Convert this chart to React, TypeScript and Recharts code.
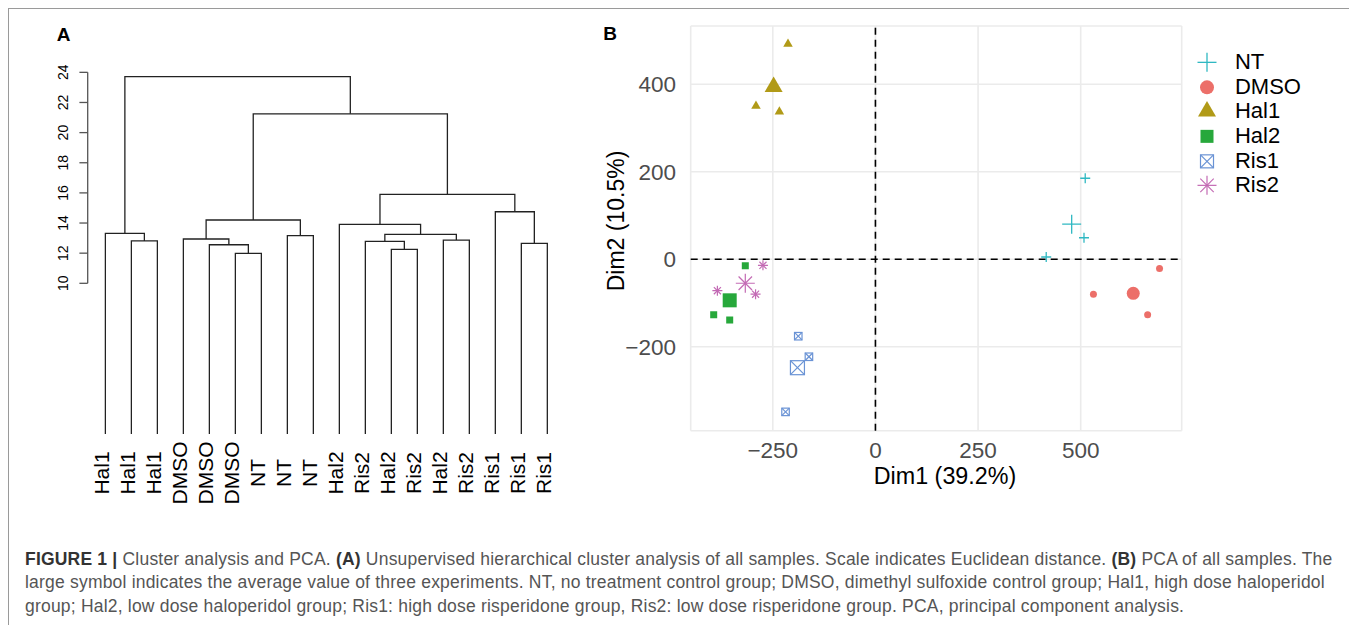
import React from "react";
import {
  ComposedChart,
  Line,
  ScatterChart,
  Scatter,
  XAxis,
  YAxis,
  CartesianGrid,
  ReferenceLine,
  Legend,
} from "recharts";

const FONT = "'Liberation Sans', Arial, Helvetica, sans-serif";

// ---- panel A: hierarchical clustering ----
const LEAF_LABELS = [
  "Hal1", "Hal1", "Hal1", "DMSO", "DMSO", "DMSO", "NT", "NT", "NT",
  "Hal2", "Ris2", "Hal2", "Ris2", "Hal2", "Ris2", "Ris1", "Ris1", "Ris1",
];
// merge steps, R hclust style: negative = leaf position, positive = earlier step
const MERGE_LEFT = [-6, -12, -5, -17, -11, -2, -14, -4, -8, 5, -1, -10, 8, -16, 12, 13, 11];
const MERGE_RIGHT = [-7, -13, 1, -18, 2, -3, -15, 3, -9, 7, 6, 10, 9, 4, 14, 15, 16];
const MERGE_HEIGHT = [
  11.99, 12.25, 12.56, 12.65, 12.78, 12.81, 12.87, 12.94, 13.16,
  13.25, 13.31, 13.91, 14.2, 14.75, 15.9, 21.25, 23.71,
];
const HEIGHT_TICKS = [10, 12, 14, 16, 18, 20, 22, 24];

// ---- panel B: PCA ----
const GROUP_NAMES = ["NT", "DMSO", "Hal1", "Hal2", "Ris1", "Ris2"];
const NT_POINTS = [[511, 185], [508, 49], [416, 5]];
const DMSO_POINTS = [[692, -21], [531, -80], [663, -127]];
const HAL1_POINTS = [[-213, 492], [-291, 350], [-234, 337]];
const HAL2_POINTS = [[-317, -15], [-394, -127], [-355, -139]];
const RIS1_POINTS = [[-188, -176], [-162, -223], [-219, -349]];
const RIS2_POINTS = [[-274, -14], [-385, -72], [-292, -80]];
const GROUP_MEANS = [[478, 80], [628, -78], [-248, 394], [-355, -94], [-190, -248], [-317, -55]];
const DIM1_TICKS = [-250, 0, 250, 500];
const DIM2_TICKS = [-200, 0, 200, 400];

const GROUP_POINTS = [NT_POINTS, DMSO_POINTS, HAL1_POINTS, HAL2_POINTS, RIS1_POINTS, RIS2_POINTS];

const GROUP_STYLE = [
  { shape: "plus", color: "#2FB8C2", small: 10, big: 19, legend: 19 },
  { shape: "circle", color: "#EC6F69", small: 7, big: 13, legend: 14 },
  { shape: "triangle", color: "#B19A17", small: 9.5, big: 18, legend: 18 },
  { shape: "square", color: "#27A83B", small: 7, big: 14, legend: 13 },
  { shape: "boxx", color: "#6A93D5", small: 7.5, big: 14, legend: 13 },
  { shape: "asterisk", color: "#C36AB4", small: 10, big: 19, legend: 19 },
];

// dendrogram links: each merge drawn as a U through the chart scales
const nodeX: number[] = [];
const nodeH: number[] = [];
const childPos = (ref: number) =>
  ref < 0 ? { x: -ref, h: 0 } : { x: nodeX[ref - 1], h: nodeH[ref - 1] };
const LINKS = MERGE_HEIGHT.map((h, i) => {
  const a = childPos(MERGE_LEFT[i]);
  const b = childPos(MERGE_RIGHT[i]);
  nodeX[i] = (a.x + b.x) / 2;
  nodeH[i] = h;
  return [
    { x: a.x, h: a.h },
    { x: a.x, h },
    { x: b.x, h },
    { x: b.x, h: b.h },
  ];
});
const LEAF_TICKS = LEAF_LABELS.map((_, i) => i + 1);

const fmt = (v: number) => (v < 0 ? "\u2212" + Math.abs(v) : String(v));

function drawSymbol(shape: string, cx: number, cy: number, s: number, color: string) {
  const h = s / 2;
  switch (shape) {
    case "plus":
      return (
        <g stroke={color} strokeWidth={1.3}>
          <line x1={cx - h} x2={cx + h} y1={cy} y2={cy} />
          <line x1={cx} x2={cx} y1={cy - h} y2={cy + h} />
        </g>
      );
    case "circle":
      return <circle cx={cx} cy={cy} r={h} fill={color} />;
    case "triangle": {
      const th = s * 0.866;
      return (
        <polygon
          points={`${cx},${cy - (th * 2) / 3} ${cx + h},${cy + th / 3} ${cx - h},${cy + th / 3}`}
          fill={color}
        />
      );
    }
    case "square":
      return <rect x={cx - h} y={cy - h} width={s} height={s} fill={color} />;
    case "boxx":
      return (
        <g stroke={color} strokeWidth={1.2} fill="none">
          <rect x={cx - h} y={cy - h} width={s} height={s} />
          <line x1={cx - h} y1={cy - h} x2={cx + h} y2={cy + h} />
          <line x1={cx - h} y1={cy + h} x2={cx + h} y2={cy - h} />
        </g>
      );
    default: {
      const d = h * 0.7071;
      return (
        <g stroke={color} strokeWidth={1.2}>
          <line x1={cx - h} x2={cx + h} y1={cy} y2={cy} />
          <line x1={cx} x2={cx} y1={cy - h} y2={cy + h} />
          <line x1={cx - d} x2={cx + d} y1={cy - d} y2={cy + d} />
          <line x1={cx - d} x2={cx + d} y1={cy + d} y2={cy - d} />
        </g>
      );
    }
  }
}

const LeafTick = (props: any) => {
  const { x, y, payload } = props;
  return (
    <text
      transform={`translate(${x + 3.5}, ${y + 39}) rotate(-90)`}
      textAnchor="middle"
      fontSize={21}
      fontFamily={FONT}
      fill="#000"
    >
      {LEAF_LABELS[payload.value - 1]}
    </text>
  );
};

const HeightTick = (props: any) => {
  const { x, y, payload } = props;
  return (
    <g>
      <line x1={x - 8.3} x2={x} y1={y} y2={y} stroke="#555" strokeWidth={1.3} />
      <text
        transform={`translate(${x - 19.4}, ${y}) rotate(-90)`}
        textAnchor="middle"
        fontSize={14}
        fontFamily={FONT}
        fill="#000"
      >
        {payload.value}
      </text>
    </g>
  );
};

const Dim1Tick = (props: any) => {
  const { x, y, payload } = props;
  return (
    <text x={x} y={y + 27.5} textAnchor="middle" fontSize={22.5} fontFamily={FONT} fill="#4D4D4D">
      {fmt(payload.value)}
    </text>
  );
};

const Dim2Tick = (props: any) => {
  const { x, y, payload } = props;
  return (
    <text x={x - 14.7} y={y} dy="0.36em" textAnchor="end" fontSize={22.5} fontFamily={FONT} fill="#4D4D4D">
      {fmt(payload.value)}
    </text>
  );
};

const renderLegend = () => (
  <div style={{ fontFamily: FONT, fontSize: 22, color: "#000" }}>
    {GROUP_NAMES.map((name, i) => (
      <div key={name} style={{ display: "flex", alignItems: "center", height: 24.7 }}>
        <svg width={24} height={24.7} style={{ flex: "none" }}>
          {drawSymbol(GROUP_STYLE[i].shape, 12, 12.35, GROUP_STYLE[i].legend, GROUP_STYLE[i].color)}
        </svg>
        <span style={{ marginLeft: 16.3, lineHeight: "24.7px", whiteSpace: "nowrap" }}>{name}</span>
      </div>
    ))}
  </div>
);

export default function App() {
  return (
    <div
      style={{
        position: "relative",
        width: 1340,
        height: 650,
        border: "1px solid #9a9a9a",
        background: "#fff",
        fontFamily: FONT,
      }}
    >
      <div style={{ position: "absolute", left: 47.7, top: 15.6, fontSize: 19, lineHeight: "19px", fontWeight: "bold" }}>
        A
      </div>
      <div style={{ position: "absolute", left: 594.3, top: 14.9, fontSize: 19, lineHeight: "19px", fontWeight: "bold" }}>
        B
      </div>

      <div style={{ position: "absolute", left: 0, top: 0 }}>
        <ComposedChart width={580} height={520} margin={{ top: 55.8, right: 24, left: 0, bottom: 0 }}>
          <XAxis
            type="number"
            dataKey="x"
            domain={[0.32, 18.68]}
            ticks={LEAF_TICKS}
            interval={0}
            axisLine={false}
            tickLine={false}
            tickSize={0}
            tickMargin={0}
            height={95}
            tick={LeafTick}
            allowDataOverflow
          />
          <YAxis
            type="number"
            domain={[0, 24.5]}
            ticks={HEIGHT_TICKS}
            interval={0}
            width={78.7}
            axisLine={false}
            tickLine={false}
            tickSize={0}
            tickMargin={0}
            tick={HeightTick}
            allowDataOverflow
          />
          <ReferenceLine
            segment={[{ x: 0.32, y: 10 }, { x: 0.32, y: 24 }]}
            stroke="#555"
            strokeWidth={1.3}
            ifOverflow="visible"
          />
          {LINKS.map((d, i) => (
            <Line
              key={i}
              data={d}
              dataKey="h"
              type="linear"
              stroke="#222"
              strokeWidth={1.3}
              dot={false}
              activeDot={false}
              isAnimationActive={false}
            />
          ))}
        </ComposedChart>
      </div>

      <div style={{ position: "absolute", left: 581, top: 0 }}>
        <ScatterChart width={740} height={500} margin={{ top: 17, right: 148.3, left: 0, bottom: 0 }}>
          <CartesianGrid stroke="#EBEBEB" strokeWidth={1.6} />
          <XAxis
            type="number"
            dataKey="x"
            domain={[-450, 746]}
            ticks={DIM1_TICKS}
            interval={0}
            axisLine={false}
            tickLine={false}
            tickSize={0}
            tickMargin={0}
            height={78.3}
            tick={Dim1Tick}
            allowDataOverflow
            label={{
              content: () => (
                <text x={355} y={474.5} textAnchor="middle" fontSize={23.3} fontFamily={FONT} fill="#000">
                  Dim1 (39.2%)
                </text>
              ),
            }}
          />
          <YAxis
            type="number"
            dataKey="y"
            domain={[-392, 533]}
            ticks={DIM2_TICKS}
            interval={0}
            width={100.7}
            axisLine={false}
            tickLine={false}
            tickSize={0}
            tickMargin={0}
            tick={Dim2Tick}
            allowDataOverflow
            label={{
              content: () => (
                <text
                  transform="translate(34, 212) rotate(-90)"
                  textAnchor="middle"
                  fontSize={23}
                  fontFamily={FONT}
                  fill="#000"
                >
                  Dim2 (10.5%)
                </text>
              ),
            }}
          />
          <ReferenceLine x={0} stroke="#000" strokeWidth={1.6} strokeDasharray="7 5" />
          <ReferenceLine y={0} stroke="#000" strokeWidth={1.6} strokeDasharray="7 5" />
          {GROUP_NAMES.map((name, i) => {
            const st = GROUP_STYLE[i];
            const data = [
              ...GROUP_POINTS[i].map(([x, y]) => ({ x, y, big: false })),
              { x: GROUP_MEANS[i][0], y: GROUP_MEANS[i][1], big: true },
            ];
            return (
              <Scatter
                key={name}
                name={name}
                data={data}
                fill={st.color}
                isAnimationActive={false}
                shape={(p: any) =>
                  drawSymbol(st.shape, p.cx, p.cy, p.payload.big ? st.big : st.small, st.color)
                }
              />
            );
          })}
          <Legend
            layout="vertical"
            align="center"
            verticalAlign="middle"
            wrapperStyle={{ left: 604.7, top: 41, width: 130 }}
            content={renderLegend}
          />
        </ScatterChart>
      </div>

      <div
        style={{
          position: "absolute",
          left: 16,
          top: 538.5,
          fontSize: 17.5,
          letterSpacing: 0.2,
          lineHeight: "23.5px",
          color: "#555",
          whiteSpace: "nowrap",
        }}
      >
        <div>
          <b style={{ color: "#333" }}>FIGURE 1 |</b> Cluster analysis and PCA. <b style={{ color: "#333" }}>(A)</b>{" "}
          Unsupervised hierarchical cluster analysis of all samples. Scale indicates Euclidean distance.{" "}
          <b style={{ color: "#333" }}>(B)</b> PCA of all samples. The
        </div>
        <div>
          large symbol indicates the average value of three experiments. NT, no treatment control group; DMSO,
          dimethyl sulfoxide control group; Hal1, high dose haloperidol
        </div>
        <div>
          group; Hal2, low dose haloperidol group; Ris1: high dose risperidone group, Ris2: low dose risperidone
          group. PCA, principal component analysis.
        </div>
      </div>
    </div>
  );
}
